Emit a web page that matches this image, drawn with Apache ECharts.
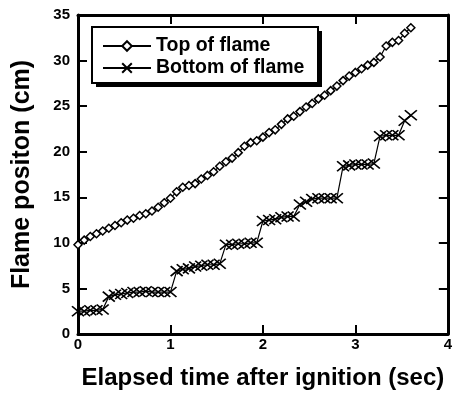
<!DOCTYPE html>
<html>
<head>
<meta charset="utf-8">
<script src="https://cdn.jsdelivr.net/npm/echarts@6/dist/echarts.min.js"></script>
<style>
  html, body { margin: 0; padding: 0; background: #fff; }
  #chart { width: 455px; height: 395px; }
</style>
</head>
<body>
<div id="chart"></div>
<script>
// Frame times (s), sampled at 15 frames per second
const times = [
  0.000, 0.067, 0.133, 0.200, 0.267, 0.333, 0.400, 0.467, 0.533, 0.600,
  0.667, 0.733, 0.800, 0.867, 0.933, 1.000, 1.067, 1.133, 1.200, 1.267,
  1.333, 1.400, 1.467, 1.533, 1.600, 1.667, 1.733, 1.800, 1.867, 1.933,
  2.000, 2.067, 2.133, 2.200, 2.267, 2.333, 2.400, 2.467, 2.533, 2.600,
  2.667, 2.733, 2.800, 2.867, 2.933, 3.000, 3.067, 3.133, 3.200, 3.267,
  3.333, 3.400, 3.467, 3.533, 3.600
];

// Position of the flame top (cm)
const topOfFlame = [
  9.8, 10.3, 10.7, 11.0, 11.3, 11.6, 11.9, 12.2, 12.5, 12.7,
  13.0, 13.2, 13.5, 13.9, 14.4, 14.9, 15.6, 16.1, 16.3, 16.5,
  17.0, 17.4, 17.8, 18.4, 18.9, 19.3, 19.9, 20.6, 21.0, 21.2,
  21.6, 22.1, 22.4, 23.0, 23.6, 23.9, 24.4, 24.9, 25.3, 25.8,
  26.2, 26.7, 27.2, 27.8, 28.3, 28.7, 29.1, 29.5, 29.8, 30.4,
  31.6, 32.0, 32.2, 33.0, 33.6
];

// Position of the flame bottom (cm)
const bottomOfFlame = [
  2.5, 2.5, 2.6, 2.6, 2.7, 4.1, 4.3, 4.4, 4.5, 4.6,
  4.6, 4.7, 4.6, 4.6, 4.6, 4.6, 6.9, 7.1, 7.2, 7.4,
  7.5, 7.6, 7.6, 7.7, 9.8, 9.8, 9.9, 9.9, 10.0, 10.0,
  12.4, 12.5, 12.6, 12.8, 12.9, 12.9, 14.2, 14.5, 14.8, 14.9,
  14.9, 14.9, 14.9, 18.4, 18.5, 18.6, 18.6, 18.6, 18.7, 21.7,
  21.8, 21.8, 21.8, 23.4, 24.0
];

const seriesNames = ['Top of flame', 'Bottom of flame'];
const xTicks = { min: 0, max: 4, step: 1 };
const yTicks = { min: 0, max: 35, step: 5 };

const FONT = 'Arial';
const crossSymbol = 'path://M0,0L10,8M10,0L0,8';

const pairs = (xs, ys) => xs.map((x, i) => [x, ys[i]]);

const frameAxisLine = { show: true, onZero: false, lineStyle: { color: '#000', width: 3 } };
const tickStyle = { show: true, inside: true, length: 9, lineStyle: { color: '#000', width: 2 } };
const boldText = (size) => ({ fontFamily: FONT, fontWeight: 'bold', fontSize: size, color: '#000' });

const chart = echarts.init(document.getElementById('chart'), null, { renderer: 'canvas' });

chart.setOption({
  animation: false,
  backgroundColor: '#fff',
  grid: { left: 78, right: 6, top: 15, bottom: 54, containLabel: false },
  xAxis: [
    {
      type: 'value', position: 'bottom',
      min: xTicks.min, max: xTicks.max, interval: xTicks.step,
      name: 'Elapsed time after ignition (sec)',
      nameLocation: 'middle', nameGap: 32,
      nameTextStyle: boldText(24),
      axisLine: frameAxisLine, axisTick: tickStyle,
      axisLabel: Object.assign(boldText(15), { margin: 3 }),
      splitLine: { show: false }
    },
    {
      type: 'value', position: 'top',
      min: xTicks.min, max: xTicks.max, interval: xTicks.step,
      axisLine: frameAxisLine, axisTick: tickStyle,
      axisLabel: { show: false }, splitLine: { show: false }
    }
  ],
  yAxis: [
    {
      type: 'value', position: 'left',
      min: yTicks.min, max: yTicks.max, interval: yTicks.step,
      name: 'Flame positon (cm)',
      nameLocation: 'middle', nameGap: 43,
      nameTextStyle: boldText(25),
      axisLine: frameAxisLine, axisTick: tickStyle,
      axisLabel: Object.assign(boldText(15), { margin: 8 }),
      splitLine: { show: false }
    },
    {
      type: 'value', position: 'right',
      min: yTicks.min, max: yTicks.max, interval: yTicks.step,
      axisLine: frameAxisLine, axisTick: tickStyle,
      axisLabel: { show: false }, splitLine: { show: false }
    }
  ],
  graphic: [
    // legend frame with a hard drop shadow
    { type: 'rect', z: 5, shape: { x: 96, y: 31, width: 226, height: 56 }, style: { fill: '#000' } },
    { type: 'rect', z: 6, shape: { x: 92, y: 27, width: 226, height: 56 },
      style: { fill: '#fff', stroke: '#000', lineWidth: 2 } }
  ],
  legend: {
    z: 10,
    orient: 'vertical',
    left: 102, top: 36, padding: 0,
    itemWidth: 48, itemHeight: 12, itemGap: 2,
    data: seriesNames,
    textStyle: Object.assign(boldText(19.5), { lineHeight: 20 })
  },
  series: [
    {
      name: seriesNames[0], type: 'line',
      data: pairs(times, topOfFlame),
      symbol: 'diamond', symbolSize: 8,
      lineStyle: { color: '#000', width: 1.2 },
      itemStyle: { color: '#fff', borderColor: '#000', borderWidth: 1.5 }
    },
    {
      name: seriesNames[1], type: 'line',
      data: pairs(times, bottomOfFlame),
      symbol: crossSymbol, symbolSize: [12, 10],
      lineStyle: { color: '#000', width: 1.2 },
      itemStyle: { color: '#fff', borderColor: '#000', borderWidth: 1.6 }
    }
  ]
});
</script>
</body>
</html>
